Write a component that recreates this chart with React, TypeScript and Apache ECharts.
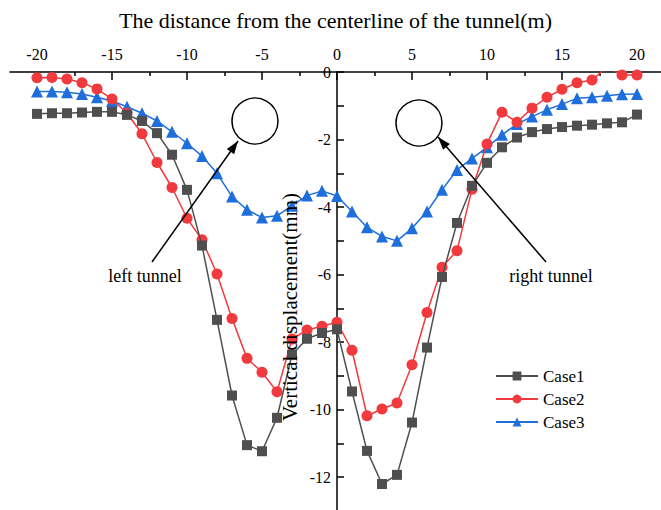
import React, { useEffect, useRef } from "react";
import * as echarts from "echarts";

const xValues = [-20,-19,-18,-17,-16,-15,-14,-13,-12,-11,-10,-9,-8,-7,-6,-5,-4,-3,-2,-1,0,1,2,3,4,5,6,7,8,9,10,11,12,13,14,15,16,17,18,19,20];
const case1 = [-1.24,-1.22,-1.22,-1.2,-1.18,-1.18,-1.27,-1.45,-1.81,-2.45,-3.49,-5.14,-7.34,-9.58,-11.05,-11.23,-10.24,-8.37,-7.9,-7.73,-7.62,-9.46,-11.22,-12.2,-11.93,-10.38,-8.16,-6.07,-4.47,-3.37,-2.69,-2.23,-1.94,-1.78,-1.69,-1.63,-1.59,-1.56,-1.52,-1.49,-1.26];
const case2 = [-0.17,-0.16,-0.21,-0.32,-0.5,-0.8,-1.22,-1.83,-2.68,-3.42,-4.33,-4.97,-5.98,-7.3,-8.48,-8.89,-9.47,-7.91,-7.64,-7.53,-7.41,-8.24,-10.18,-9.98,-9.8,-8.67,-7.12,-5.78,-5.29,-3.47,-2.13,-1.19,-1.49,-1.07,-0.75,-0.51,-0.32,-0.24,0.15,-0.09,-0.09];
const case3 = [-0.58,-0.58,-0.6,-0.65,-0.75,-0.86,-1.03,-1.22,-1.45,-1.77,-2.11,-2.49,-3.0,-3.69,-4.08,-4.31,-4.26,-3.96,-3.66,-3.52,-3.67,-4.13,-4.6,-4.87,-5.0,-4.63,-4.13,-3.49,-2.9,-2.56,-2.23,-1.86,-1.54,-1.32,-1.12,-0.95,-0.78,-0.75,-0.7,-0.66,-0.65];
const seriesNames = ["Case1", "Case2", "Case3"];
const majorXTicks = [-20,-15,-10,-5,0,5,10,15,20];
const minorXTicks = [-17.5,-12.5,-7.5,-2.5,2.5,7.5,12.5,17.5];

const FONT = "Liberation Serif";

function arrowHead(tx: number, ty: number, fx: number, fy: number, len: number, half: number) {
  const dx = tx - fx, dy = ty - fy;
  const d = Math.sqrt(dx * dx + dy * dy);
  const ux = dx / d, uy = dy / d;
  const px = -uy, py = ux;
  const bx = tx - len * ux, by = ty - len * uy;
  return [[tx, ty], [bx + half * px, by + half * py], [bx - half * px, by - half * py]];
}

export default function App() {
  const ref = useRef<HTMLDivElement>(null);
  useEffect(() => {
    if (!ref.current) return;
    const chart = echarts.init(ref.current, null, { renderer: "svg" });
    const pair = (arr: number[]) => xValues.map((x, i) => [x, arr[i]]);
    const colors = ["#4f4f4f", "#f03a3d", "#1e6fdc"];
    const symbols = ["rect", "circle", "triangle"];
    const sizes = [10, 11, 12];
    const data = [case1, case2, case3];
    const lTip = [238, 141], lFrom = [152, 262];
    const rTip = [438, 137], rFrom = [546, 262];
    const gridLeft = 10;
    const xMin = -21.8, xMax = 21.6;
    const pxPerUnit = (661 - gridLeft) / (xMax - xMin);
    const yAxisOffset = -(0 - xMin) * pxPerUnit;
    chart.setOption({
      animation: false,
      backgroundColor: "#ffffff",
      textStyle: { fontFamily: FONT },
      grid: { left: gridLeft, right: 0, top: 72, height: 439, containLabel: false, outerBoundsMode: "none" },
      xAxis: [
        {
          type: "value",
          position: "top",
          min: xMin,
          max: xMax,
          name: "The distance from the centerline of the tunnel(m)",
          nameLocation: "middle",
          nameGap: 41,
          nameTextStyle: { fontFamily: FONT, fontSize: 22, color: "#000" },
          axisLine: { onZero: false, lineStyle: { color: "#000", width: 1.5 } },
          axisTick: { inside: true, length: 8, customValues: majorXTicks, lineStyle: { color: "#000", width: 1.5 } },
          axisLabel: { customValues: majorXTicks, fontFamily: FONT, fontSize: 16, color: "#000", margin: 10 },
          splitLine: { show: false },
        },
        {
          type: "value",
          position: "top",
          min: xMin,
          max: xMax,
          axisLine: { show: false, onZero: false },
          axisTick: { inside: true, length: 4, customValues: minorXTicks, lineStyle: { color: "#000", width: 1.5 } },
          axisLabel: { show: false },
          splitLine: { show: false },
        },
      ],
      yAxis: {
        type: "value",
        position: "left",
        offset: yAxisOffset,
        min: -13,
        max: 0,
        interval: 1,
        axisLine: { onZero: false, lineStyle: { color: "#000", width: 1.5 } },
        axisTick: { inside: true, length: 7, lineStyle: { color: "#000", width: 1.5 } },
        axisLabel: {
          fontFamily: FONT,
          fontSize: 16,
          color: "#000",
          margin: 6,
          formatter: (v: number) => (Math.round(v) % 2 === 0 ? String(Math.round(v) === 0 ? 0 : Math.round(v)) : ""),
        },
        splitLine: { show: false },
      },
      legend: {
        orient: "vertical",
        left: 495,
        top: 367,
        padding: 0,
        itemWidth: 42,
        itemHeight: 11,
        itemGap: 5,
        selectedMode: false,
        textStyle: { fontFamily: FONT, fontSize: 17, color: "#000", lineHeight: 18 },
        data: seriesNames,
      },
      series: data.map((arr, i) => ({
        name: seriesNames[i],
        type: "line",
        xAxisIndex: 0,
        data: pair(arr),
        symbol: symbols[i],
        symbolSize: sizes[i],
        showAllSymbol: true,
        clip: true,
        lineStyle: { color: colors[i], width: 1.5 },
        itemStyle: { color: colors[i] },
        z: 2 + (2 - i),
      })),
      graphic: [
        { type: "circle", shape: { cx: 255, cy: 121, r: 23 }, style: { fill: "none", stroke: "#000", lineWidth: 1.5 }, z: 10 },
        { type: "circle", shape: { cx: 419, cy: 123, r: 23 }, style: { fill: "none", stroke: "#000", lineWidth: 1.5 }, z: 10 },
        { type: "line", shape: { x1: lFrom[0], y1: lFrom[1], x2: lTip[0], y2: lTip[1] }, style: { stroke: "#000", lineWidth: 1.5 }, z: 10 },
        { type: "polygon", shape: { points: arrowHead(lTip[0], lTip[1], lFrom[0], lFrom[1], 13, 4.5) }, style: { fill: "#000" }, z: 10 },
        { type: "line", shape: { x1: rFrom[0], y1: rFrom[1], x2: rTip[0], y2: rTip[1] }, style: { stroke: "#000", lineWidth: 1.5 }, z: 10 },
        { type: "polygon", shape: { points: arrowHead(rTip[0], rTip[1], rFrom[0], rFrom[1], 13, 4.5) }, style: { fill: "#000" }, z: 10 },
        { type: "text", x: 145, y: 276, style: { text: "left tunnel", fontFamily: FONT, fontSize: 18, fill: "#000", textAlign: "center", textVerticalAlign: "middle" }, z: 10 },
        { type: "text", x: 551, y: 276, style: { text: "right tunnel", fontFamily: FONT, fontSize: 18, fill: "#000", textAlign: "center", textVerticalAlign: "middle" }, z: 10 },
        { type: "text", x: 290, y: 307, rotation: Math.PI / 2, style: { text: "Vertical displacement(mm)", fontFamily: FONT, fontSize: 21, fill: "#000", textAlign: "center", textVerticalAlign: "middle" }, z: 10 },
      ],
    });
    return () => chart.dispose();
  }, []);
  return <div ref={ref} style={{ width: 661, height: 510, position: "absolute", left: 0, top: 0 }} />;
}
